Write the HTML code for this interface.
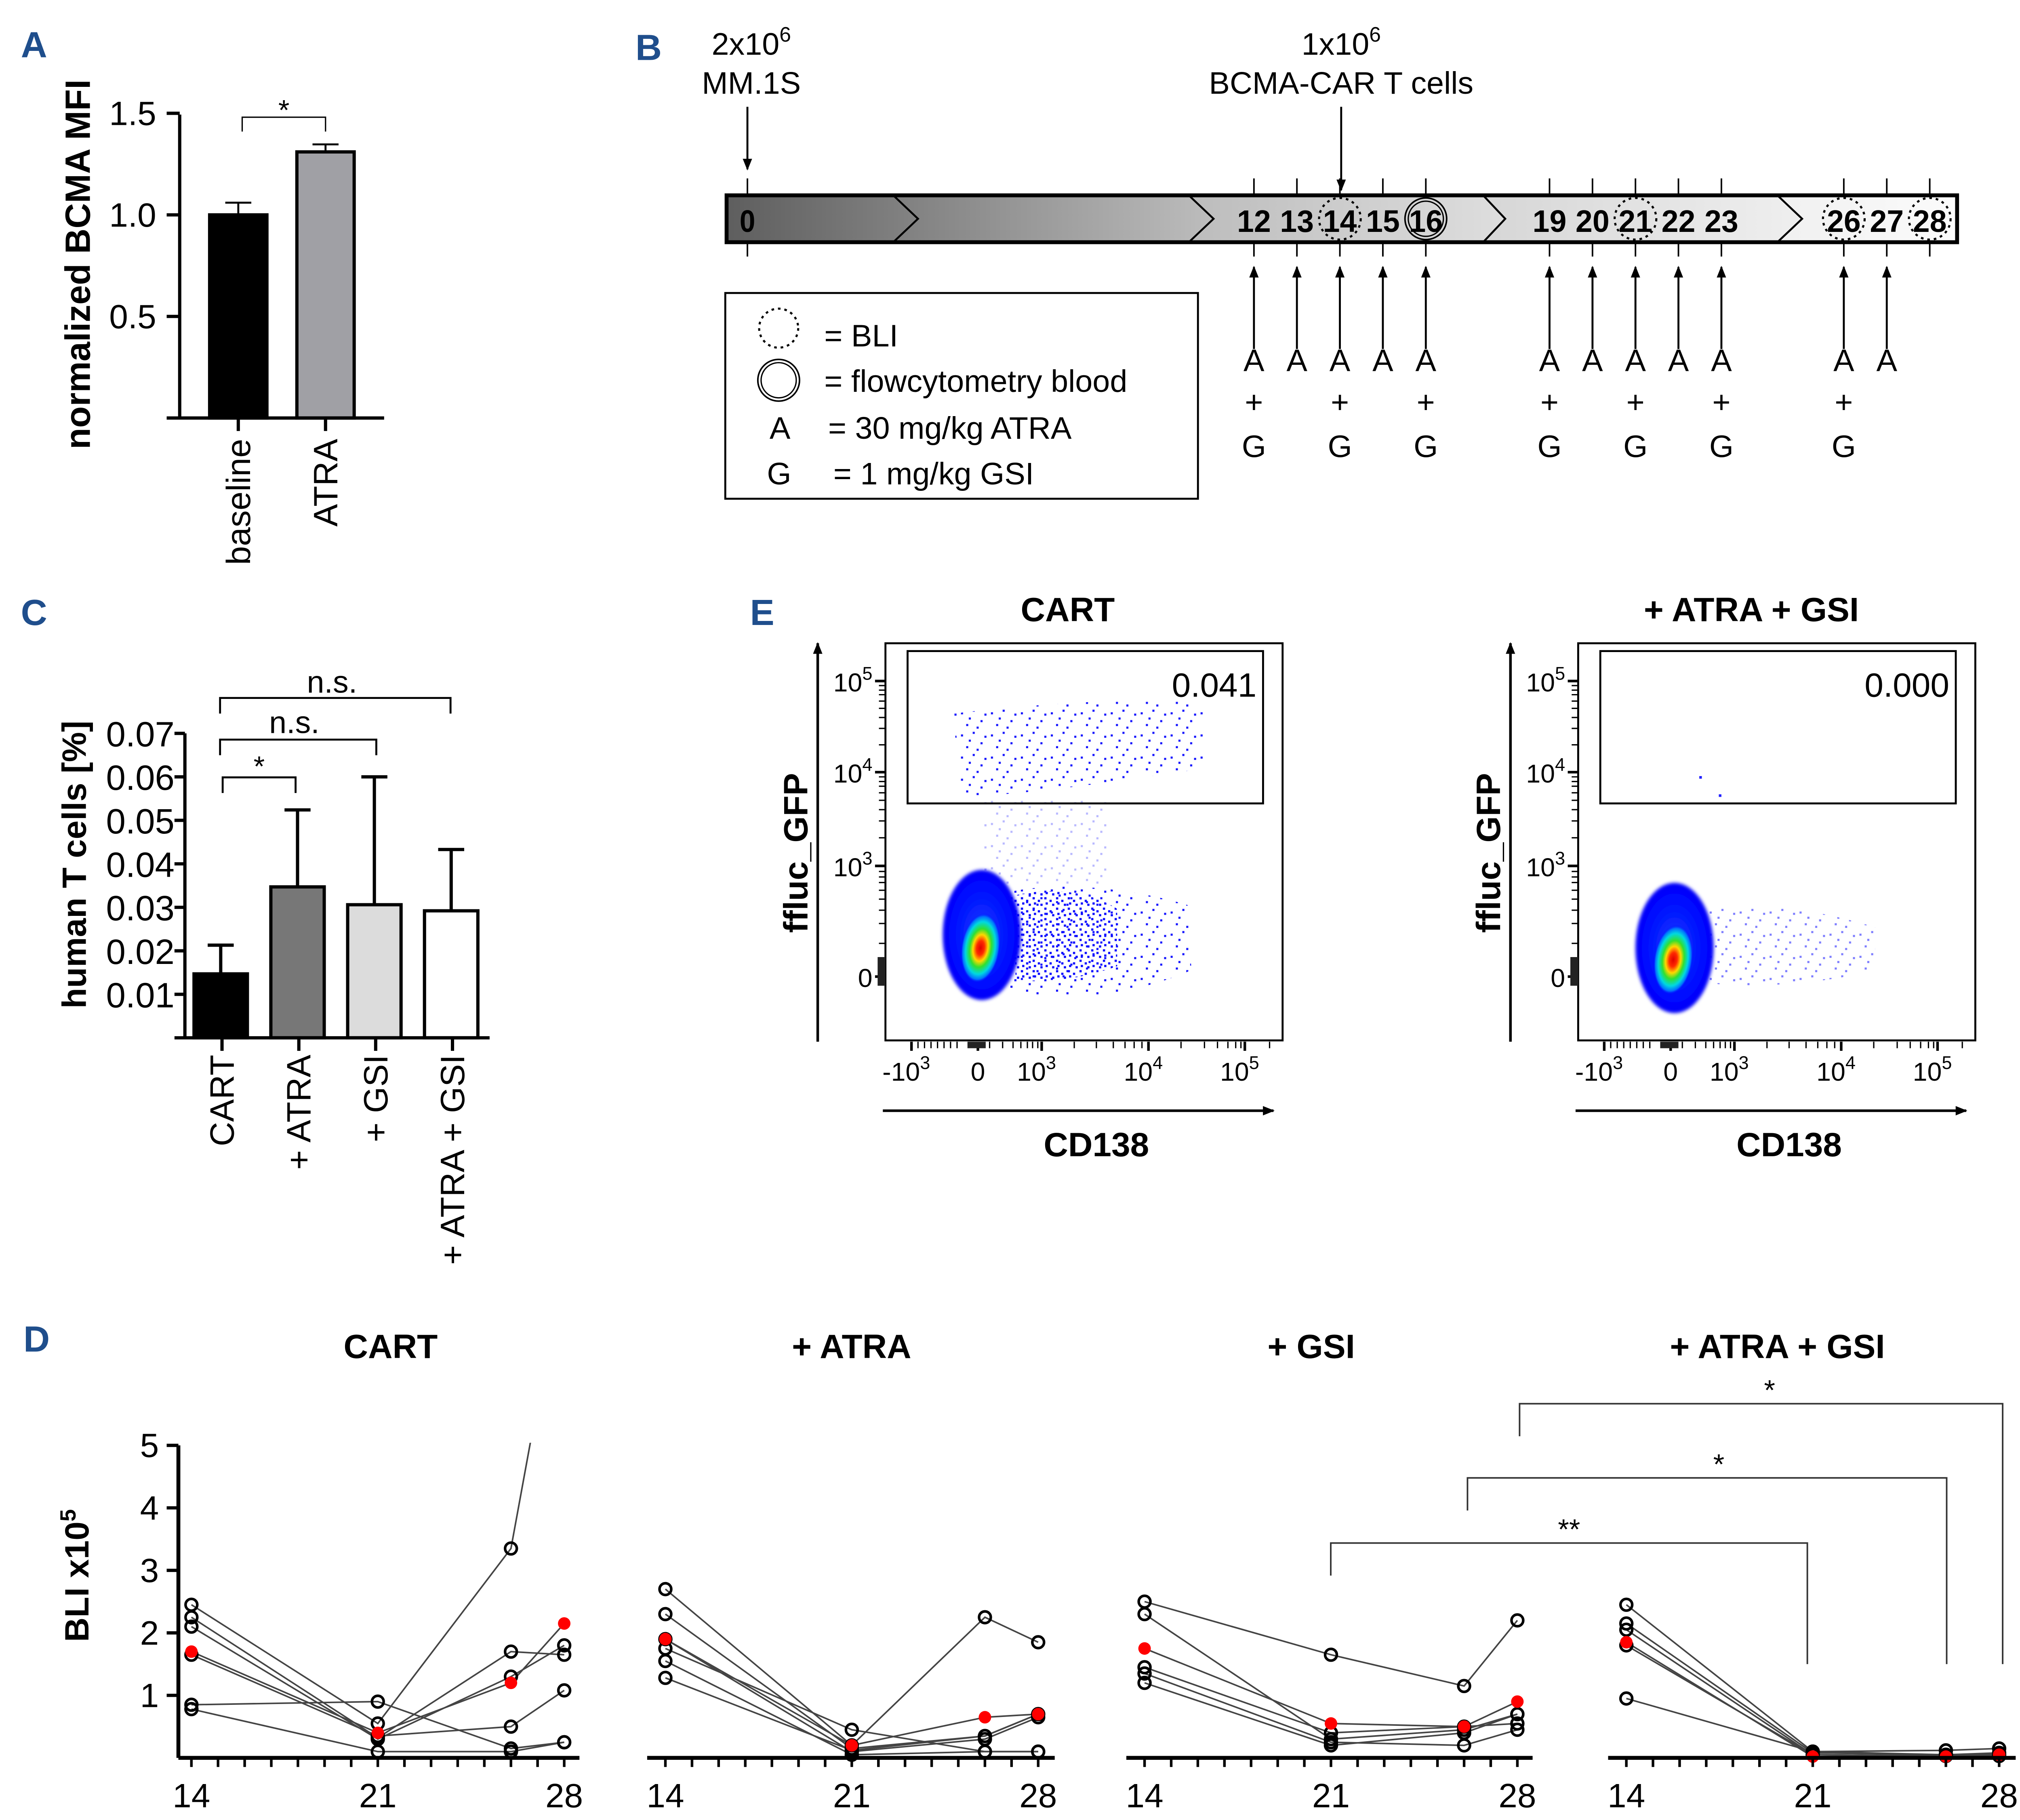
<!DOCTYPE html>
<html><head><meta charset="utf-8">
<style>
html,body{margin:0;padding:0;background:#fff;}
svg{display:block;font-family:"Liberation Sans",Arial,sans-serif;}
</style></head>
<body>
<svg id="fig" width="5028" height="4505" viewBox="0 0 1560 1397.7" xmlns="http://www.w3.org/2000/svg">
<defs>
  <linearGradient id="g1" x1="0" x2="1"><stop offset="0" stop-color="#5e5e5e"/><stop offset="1" stop-color="#bdbdbd"/></linearGradient>
  <linearGradient id="g3" x1="0" x2="1"><stop offset="0" stop-color="#bcbcbc"/><stop offset="1" stop-color="#dedede"/></linearGradient>
  <linearGradient id="g4" x1="0" x2="1"><stop offset="0" stop-color="#d6d6d6"/><stop offset="1" stop-color="#efefef"/></linearGradient>
  <linearGradient id="g5" x1="0" x2="1"><stop offset="0" stop-color="#f0f0f0"/><stop offset="1" stop-color="#fbfbfb"/></linearGradient>
  <radialGradient id="core" cx="0.5" cy="0.5" r="0.5">
    <stop offset="0" stop-color="#e00000"/><stop offset="0.2" stop-color="#ff2a00"/>
    <stop offset="0.38" stop-color="#ffd800"/><stop offset="0.55" stop-color="#30e030"/>
    <stop offset="0.75" stop-color="#00d8e0"/><stop offset="0.9" stop-color="#0070ff"/>
    <stop offset="1" stop-color="#0000ff" stop-opacity="0"/>
  </radialGradient>
  <radialGradient id="outer" cx="0.5" cy="0.5" r="0.5">
    <stop offset="0" stop-color="#1040ff"/><stop offset="0.8" stop-color="#0008ff"/><stop offset="1" stop-color="#0000f8"/>
  </radialGradient>
  <filter id="soft"><feGaussianBlur stdDeviation="1.3"/></filter>
  <pattern id="dots" width="23" height="17" patternUnits="userSpaceOnUse">
    <rect x="2" y="3" width="1.6" height="1.6" fill="#1515ff"/><rect x="11" y="1" width="1.6" height="1.6" fill="#1515ff"/>
    <rect x="17" y="9" width="1.6" height="1.6" fill="#1515ff"/><rect x="6" y="12" width="1.6" height="1.6" fill="#1515ff"/>
    <rect x="14" y="14" width="1.6" height="1.6" fill="#1515ff"/><rect x="20" y="4" width="1.6" height="1.6" fill="#1515ff"/>
    <rect x="8" y="7" width="1.6" height="1.6" fill="#1515ff"/>
  </pattern>
  <pattern id="dense" width="9" height="8" patternUnits="userSpaceOnUse">
    <rect x="1" y="1" width="1.7" height="1.7" fill="#0a0aff"/><rect x="5" y="3" width="1.7" height="1.7" fill="#0a0aff"/>
    <rect x="2" y="5" width="1.7" height="1.7" fill="#0a0aff"/><rect x="7" y="6" width="1.7" height="1.7" fill="#0a0aff"/>
  </pattern>
  <marker id="ah" viewBox="0 0 10 10" refX="9" refY="5" markerWidth="9" markerHeight="9" orient="auto-start-reverse" markerUnits="userSpaceOnUse">
    <path d="M0,1 L10,5 L0,9 z" fill="#000"/>
  </marker>
</defs>

<g font-weight="bold" fill="#1f4e8c" font-size="28">
  <text x="16" y="44">A</text>
  <text x="488" y="46">B</text>
  <text x="16" y="480">C</text>
  <text x="576" y="480">E</text>
  <text x="18" y="1038">D</text>
</g>

<g id="panelA"></g>
<g id="panelB"></g>
<g id="panelC"></g>
<g id="panelE"></g>
<g id="panelD"></g>
</svg>

<script>
// ---------- DATA ----------
const aCategories = ["baseline", "ATRA"];
const aValues = [1.0, 1.31];
const aErrors = [1.06, 1.347];
const aTicks = ["0.5", "1.0", "1.5"];

const cCategories = ["CART", "+ ATRA", "+ GSI", "+ ATRA + GSI"];
const cValues = [0.0147, 0.0347, 0.0306, 0.0292];
const cErrors = [0.0213, 0.0524, 0.060, 0.0433];
const cTicks = ["0.01","0.02","0.03","0.04","0.05","0.06","0.07"];

const bDays = [0,12,13,14,15,16,19,20,21,22,23,26,27,28];
const bAtraDays = [12,13,14,15,16,19,20,21,22,23,26,27];
const bGsiDays = [12,14,16,19,21,23,26];
const bBliDays = [14,21,26,28];
const bFlowDays = [16];

const dDays = [14, 21, 26, 28];
const dXTicks = ["14", "21", "28"];
const dYTicks = ["1","2","3","4","5"];
const dTitles = ["CART", "+ ATRA", "+ GSI", "+ ATRA + GSI"];
const dCart = [[2.45,0.55,3.35,8],[2.25,0.32,1.7,1.65],[2.1,0.3,1.3,1.8],[1.65,0.35,0.5,1.08],[0.85,0.9,0.15,0.25],[0.78,0.1,0.1,0.25]];
const dCartMean = [1.7,0.4,1.2,2.15];
const dAtra = [[2.7,0.2,2.25,1.85],[2.3,0.15,0.35,0.7],[1.9,0.1,0.3,0.65],[1.75,0.45,0.1,0.1],[1.55,0.05,0.1,0.1],[1.28,0.12,0.35,0.7]];
const dAtraMean = [1.9,0.2,0.65,0.7];
const dGsi = [[2.5,1.65,1.15,2.2],[2.3,0.3,0.45,0.7],[1.45,0.4,0.5,0.55],[1.35,0.25,0.2,0.45],[1.2,0.2,0.4,0.7]];
const dGsiMean = [1.75,0.55,0.5,0.9];
const dAg = [[2.45,0.1,0.12,0.15],[2.15,0.08,0.05,0.05],[2.05,0.05,0.03,0.05],[1.8,0.05,0.03,0.03],[0.95,0.1,0.05,0.08]];
const dAgMean = [1.85,0.02,0.02,0.05];

// ---------- helpers ----------
const NS = "http://www.w3.org/2000/svg";
function mk(parent, tag, attrs, text){
  const e = document.createElementNS(NS, tag);
  for (const k in attrs) e.setAttribute(k, attrs[k]);
  if (text !== undefined) e.textContent = text;
  parent.appendChild(e);
  return e;
}
const FONT = 26;

// ---------- PANEL A ----------
(function(){
  const g = document.getElementById('panelA');
  const x0 = 138, y0 = 321, yTop = 88;
  const yA = v => y0 - v * (y0 - 165);
  const barX = [161, 228], barW = 44;
  const fills = ["#000", "#a0a0a5"];
  aValues.forEach((v,i)=>{
    const eb = mk(g,'line',{x1:barX[i]+barW/2,x2:barX[i]+barW/2,y1:yA(v),y2:yA(aErrors[i]),stroke:'#000','stroke-width':1.5});
    
    
    const cap = mk(g,'line',{x1:barX[i]+barW/2-10,x2:barX[i]+barW/2+10,y1:yA(aErrors[i]),y2:yA(aErrors[i]),stroke:'#000','stroke-width':1.5});
    
    
    const r = mk(g,'rect',{x:barX[i],y:yA(v),width:barW,height:y0-yA(v),fill:fills[i],stroke:'#000','stroke-width':2.5});
    
    
    const t = mk(g,'text',{x:0,y:0,'font-size':FONT,'text-anchor':'end',transform:`translate(${barX[i]+barW/2+9},${y0+16}) rotate(-90)`}, aCategories[i]);
    
    
    mk(g,'line',{x1:barX[i]+barW/2,x2:barX[i]+barW/2,y1:y0,y2:y0+10,stroke:'#000','stroke-width':2.5});
  });
  const ax = mk(g,'path',{d:`M${x0},${yTop} V${y0} M${x0-10},${y0} H295`,stroke:'#000','stroke-width':2.5,fill:'none'});
  
  
  aTicks.forEach(t=>{
    const y = yA(parseFloat(t));
    mk(g,'line',{x1:x0-10,x2:x0,y1:y,y2:y,stroke:'#000','stroke-width':2.5});
    const tl = mk(g,'text',{x:120,y:y+9,'font-size':FONT,'text-anchor':'end'}, t);
    
    
  });
  const yl = mk(g,'text',{x:0,y:0,'font-size':27,'font-weight':'bold','text-anchor':'middle',transform:'translate(69,203) rotate(-90)'},'normalized BCMA MFI');
  
  
  const br = mk(g,'path',{d:'M186,101 V90 H250 V101',stroke:'#000','stroke-width':1,fill:'none'});
  
  
  mk(g,'text',{x:218,y:92,'font-size':22,'text-anchor':'middle'},'*');
})();

// ---------- PANEL B ----------
(function(){
  const g = document.getElementById('panelB');
  const dx = d => d === 0 ? 574 : (d<=16 ? 963 + (d-12)*33 : (d<=23 ? 1190 + (d-19)*33 : 1416 + (d-26)*33));
  const top = 150, bot = 186, mid = 168;
  mk(g,'rect',{x:558,y:top,width:945,height:bot-top,fill:'#fff'});
  mk(g,'path',{d:`M558,${top} H913 L932,${mid} L913,${bot} H558 Z`,fill:'url(#g1)'});
  mk(g,'path',{d:`M913,${top} H1139 L1156,${mid} L1139,${bot} H913 L932,${mid} Z`,fill:'url(#g3)'});
  mk(g,'path',{d:`M1139,${top} H1365 L1384,${mid} L1365,${bot} H1139 L1156,${mid} Z`,fill:'url(#g4)'});
  mk(g,'path',{d:`M1365,${top} H1503 V${bot} H1365 L1384,${mid} Z`,fill:'url(#g5)'});
  mk(g,'path',{d:`M686,${top} L705,${mid} L686,${bot} M913,${top} L932,${mid} L913,${bot} M1139,${top} L1156,${mid} L1139,${bot} M1365,${top} L1384,${mid} L1365,${bot}`,stroke:'#000','stroke-width':1.5,fill:'none'});
  const frame = mk(g,'rect',{x:558,y:top,width:945,height:bot-top,fill:'none',stroke:'#000','stroke-width':3});
  
  
  bDays.forEach(d=>{
    const x = dx(d);
    mk(g,'line',{x1:x,x2:x,y1:137,y2:top,stroke:'#000','stroke-width':1.2});
    mk(g,'line',{x1:x,x2:x,y1:bot,y2:197,stroke:'#000','stroke-width':1.2});
    const t = mk(g,'text',{x:x,y:178,'font-size':24,'font-weight':'bold','text-anchor':'middle',textLength: d>=10?26:12,lengthAdjust:'spacingAndGlyphs'}, String(d));
    
    
  });
  bBliDays.forEach(d=>{
    const c = mk(g,'circle',{cx:dx(d),cy:mid,r:16,fill:'none',stroke:'#000','stroke-width':1.6,'stroke-dasharray':'2 3'});
    
    
  });
  bFlowDays.forEach(d=>{
    const c = mk(g,'circle',{cx:dx(d),cy:mid,r:16,fill:'none',stroke:'#000','stroke-width':1.2});
    
    
    mk(g,'circle',{cx:dx(d),cy:mid,r:13.5,fill:'none',stroke:'#000','stroke-width':1});
  });
  bAtraDays.forEach(d=>{
    const x = dx(d);
    const a = mk(g,'line',{x1:x,x2:x,y1:268,y2:205,stroke:'#000','stroke-width':1.5,'marker-end':'url(#ah)'});
    
    
    mk(g,'text',{x:x,y:285,'font-size':24,'text-anchor':'middle'},'A');
  });
  bGsiDays.forEach(d=>{
    const x = dx(d);
    mk(g,'text',{x:x,y:317,'font-size':24,'text-anchor':'middle'},'+');
    mk(g,'text',{x:x,y:351,'font-size':24,'text-anchor':'middle'},'G');
  });
  const a1 = mk(g,'line',{x1:574,x2:574,y1:82,y2:130,stroke:'#000','stroke-width':1.5,'marker-end':'url(#ah)'});
  
  
  const a2 = mk(g,'line',{x1:1030,x2:1030,y1:82,y2:146,stroke:'#000','stroke-width':1.5,'marker-end':'url(#ah)'});
  
  
  const t1 = mk(g,'text',{x:577,y:42,'font-size':24,'text-anchor':'middle'}); t1.innerHTML = '2x10<tspan dy="-10" font-size="16">6</tspan>';
  
  
  mk(g,'text',{x:577,y:72,'font-size':24,'text-anchor':'middle'},'MM.1S');
  const t2 = mk(g,'text',{x:1030,y:42,'font-size':24,'text-anchor':'middle'}); t2.innerHTML = '1x10<tspan dy="-10" font-size="16">6</tspan>';
  
  
  mk(g,'text',{x:1030,y:72,'font-size':24,'text-anchor':'middle'},'BCMA-CAR T cells');
  const lg = mk(g,'g',{});
  
  
  mk(lg,'rect',{x:557,y:225,width:363,height:158,fill:'#fff',stroke:'#000','stroke-width':1.5});
  mk(lg,'circle',{cx:598,cy:252,r:15,fill:'none',stroke:'#000','stroke-width':1.6,'stroke-dasharray':'2 3'});
  mk(lg,'circle',{cx:598,cy:292,r:16,fill:'none',stroke:'#000','stroke-width':1.2});
  mk(lg,'circle',{cx:598,cy:292,r:13.5,fill:'none',stroke:'#000','stroke-width':1});
  mk(lg,'text',{x:633,y:266,'font-size':24},'= BLI');
  mk(lg,'text',{x:633,y:301,'font-size':24},'= flowcytometry blood');
  mk(lg,'text',{x:591,y:337,'font-size':24},'A');
  mk(lg,'text',{x:636,y:337,'font-size':24},'= 30 mg/kg ATRA');
  mk(lg,'text',{x:589,y:372,'font-size':24},'G');
  mk(lg,'text',{x:640,y:372,'font-size':24},'= 1 mg/kg GSI');
})();

// ---------- PANEL C ----------
(function(){
  const g = document.getElementById('panelC');
  const x0 = 142, y0 = 797;
  const yC = v => y0 - v * 3340;
  const barX = [149,208,267,326], barW = 41;
  const fills = ["#000","#777","#dcdcdc","#fff"];
  cValues.forEach((v,i)=>{
    const cx = barX[i]+barW/2;
    mk(g,'line',{x1:cx,x2:cx,y1:yC(v),y2:yC(cErrors[i]),stroke:'#000','stroke-width':2.5});
    mk(g,'line',{x1:cx-10,x2:cx+10,y1:yC(cErrors[i]),y2:yC(cErrors[i]),stroke:'#000','stroke-width':2.5});
    const r = mk(g,'rect',{x:barX[i],y:yC(v),width:barW,height:y0-yC(v),fill:fills[i],stroke:'#000','stroke-width':2.5});
    
    
    mk(g,'line',{x1:cx+1,x2:cx+1,y1:y0,y2:y0+10,stroke:'#000','stroke-width':2.5});
    const t = mk(g,'text',{x:0,y:0,'font-size':FONT,'text-anchor':'end',transform:`translate(${cx+10},${y0+13}) rotate(-90)`}, cCategories[i]);
    
    
  });
  const ax = mk(g,'path',{d:`M${x0},${yC(0.07)} V${y0} M${x0-8},${y0} H376`,stroke:'#000','stroke-width':2.5,fill:'none'});
  
  
  cTicks.forEach(t=>{
    const y = yC(parseFloat(t));
    mk(g,'line',{x1:x0-8,x2:x0,y1:y,y2:y,stroke:'#000','stroke-width':2.5});
    const tl = mk(g,'text',{x:134,y:y+10,'font-size':27,'text-anchor':'end'}, t);
    
    
  });
  const yl = mk(g,'text',{x:0,y:0,'font-size':26,'font-weight':'bold','text-anchor':'middle',transform:'translate(66,664) rotate(-90)'},'human T cells [%]');
  
  
  const brs = [[171,227,597,'*',199,596],[169,289,568,'n.s.',226,563],[169,346,536,'n.s.',255,532]];
  brs.forEach(b=>{
    const p = mk(g,'path',{d:`M${b[0]},${b[2]+12} V${b[2]} H${b[1]} V${b[2]+12}`,stroke:'#000','stroke-width':1.5,fill:'none'});
    
    
    mk(g,'text',{x:b[4],y:b[5],'font-size':b[3]==='*'?22:24,'text-anchor':'middle'},b[3]);
  });
})();

// ---------- PANEL E ----------
(function(){
  const g = document.getElementById('panelE');
  const plots = [
    {ox:0, title:'CART', value:'0.041', blob:[754,718], core:[753,728], gated:true},
    {ox:532, title:'+ ATRA + GSI', value:'0.000', blob:[1286,728], core:[1285,737], gated:false}
  ];
  plots.forEach((p,i)=>{
    const pg = mk(g,'g',{});
    
    
    const o = p.ox;
    mk(pg,'text',{x:820+o-(i?7:0),y:477,'font-size':26,'font-weight':'bold','text-anchor':'middle'},p.title);
    if (p.gated) {
      mk(pg,'path',{d:`M775,685 C820,675 880,685 912,695 L915,745 C870,765 820,768 775,765 Z`,fill:'url(#dots)'});
      mk(pg,'path',{d:`M778,688 C810,680 840,686 858,698 L858,742 C830,752 800,756 780,752 Z`,fill:'url(#dense)'});
      mk(pg,'path',{d:`M732,548 C800,540 880,535 925,540 L925,590 C860,600 790,610 738,612 Z`,fill:'url(#dots)'});
      mk(pg,'path',{d:`M755,615 L850,615 L850,680 L755,680 Z`,fill:'url(#dots)',opacity:0.3});
    } else {
      mk(pg,'path',{d:`M1310,700 C1350,690 1400,700 1440,712 L1440,745 C1390,758 1340,758 1310,755 Z`,fill:'url(#dots)',opacity:0.55});
      mk(pg,'rect',{x:1305,y:596,width:2,height:2,fill:'#2020ff'});
      mk(pg,'rect',{x:1320,y:610,width:2,height:2,fill:'#2020ff'});
    }
    const b = mk(pg,'ellipse',{cx:p.blob[0],cy:p.blob[1],rx:30,ry:50,fill:'url(#outer)',filter:'url(#soft)'});
    
    
    const c = mk(pg,'ellipse',{cx:p.core[0],cy:p.core[1],rx:15,ry:27,fill:'url(#core)',transform:`rotate(8 ${p.core[0]} ${p.core[1]})`});
    
    
    mk(pg,'rect',{x:680+o,y:494,width:305,height:305,fill:'none',stroke:'#000','stroke-width':1.5});
    const gate = mk(pg,'rect',{x:697+o,y:500,width:273,height:117,fill:'none',stroke:'#000','stroke-width':1.5});
    
    
    const v = mk(pg,'text',{x:965+o,y:535,'font-size':26,'text-anchor':'end'},p.value);
    
    
    mk(pg,'line',{x1:628+o,x2:628+o,y1:800,y2:494,stroke:'#000','stroke-width':2,'marker-end':'url(#ah)'});
    mk(pg,'line',{x1:678+o,x2:978+o,y1:853,y2:853,stroke:'#000','stroke-width':2,'marker-end':'url(#ah)'});
    const yl = mk(pg,'text',{x:0,y:0,'font-size':26,'font-weight':'bold','text-anchor':'middle',transform:`translate(${620+o},655) rotate(-90)`},'ffluc_GFP');
    
    
    const xl = mk(pg,'text',{x:842+o,y:888,'font-size':26,'font-weight':'bold','text-anchor':'middle'},'CD138');
    
    
    [[523,'10','5'],[593,'10','4'],[665,'10','3'],[750,'0','']].forEach(t=>{
      mk(pg,'line',{x1:672+o,x2:680+o,y1:t[0],y2:t[0],stroke:'#000','stroke-width':2});
      const tt = mk(pg,'text',{x:670+o,y:t[0]+8,'font-size':20,'text-anchor':'end'});
      tt.innerHTML = t[2] ? `${t[1]}<tspan dy="-9" font-size="14">${t[2]}</tspan>` : t[1];
      
      
    });
    for (let k=0;k<3;k++){ [0.3,0.48,0.6,0.7,0.78,0.85,0.9,0.95].forEach(f=>{
      const y = [593,665,750][k] - f*([70,72,85][k]);
      mk(pg,'line',{x1:675+o,x2:680+o,y1:y,y2:y,stroke:'#000','stroke-width':1});
    });}
    mk(pg,'rect',{x:674+o,y:735,width:6,height:22,fill:'#222'});
    [[700,'-10','3'],[751,'0',''],[800,'10','3'],[882,'10','4'],[956,'10','5']].forEach(t=>{
      mk(pg,'line',{x1:t[0]+o,x2:t[0]+o,y1:800,y2:807,stroke:'#000','stroke-width':2});
      const tt = mk(pg,'text',{x:t[0]+o-(t[2]?4:0),y:830,'font-size':20,'text-anchor':'middle'});
      tt.innerHTML = t[2] ? `${t[1]}<tspan dy="-9" font-size="14">${t[2]}</tspan>` : t[1];
      
      
    });
    [705,710,715,720,725,730,735,760,770,778,784,789,793,797,825,842,855,864,871,877,907,925,935,943,949,953,975].forEach(x=>{
      mk(pg,'line',{x1:x+o,x2:x+o,y1:800,y2:805,stroke:'#000','stroke-width':1});
    });
    mk(pg,'rect',{x:743+o,y:800,width:14,height:5,fill:'#222'});
  });
})();

// ---------- PANEL D ----------
(function(){
  const g = document.getElementById('panelD');
  const y0 = 1350, perUnit = 48;
  const yD = v => y0 - v * perUnit;
  const origins = [147, 511, 879, 1249];
  const axisSpan = [[137,445],[497,810],[865,1177],[1235,1548]];
  const perDay = 20.45;
  const datasets = [dCart, dAtra, dGsi, dAg];
  const means = [dCartMean, dAtraMean, dGsiMean, dAgMean];
  const titleX = [300, 654, 1007, 1365];
  mk(g,'defs',{}).innerHTML = '<clipPath id="dclip"><rect x="100" y="1108" width="1460" height="260"/></clipPath>';
  datasets.forEach((ds,pi)=>{
    const pg = mk(g,'g',{});
    
    
    const xD = d => origins[pi] + (d - 14) * perDay;
    const tt = mk(pg,'text',{x:titleX[pi],y:1043,'font-size':26,'font-weight':'bold','text-anchor':'middle'},dTitles[pi]);
    
    
    const lines = mk(pg,'g',{'clip-path':'url(#dclip)'});
    ds.forEach(s=>{
      const pts = s.map((v,k)=>`${xD(dDays[k])},${yD(v)}`).join(' ');
      const pl = mk(lines,'polyline',{points:pts,fill:'none',stroke:'#444','stroke-width':1.2});
      
      
    });
    const m = means[pi];
    mk(lines,'polyline',{points:m.map((v,k)=>`${xD(dDays[k])},${yD(v)}`).join(' '),fill:'none',stroke:'#444','stroke-width':1.2});
    ds.forEach(s=>{
      s.forEach((v,k)=>{
        if (v > 5.1) return;
        const c = mk(lines,'circle',{cx:xD(dDays[k]),cy:yD(v),r:4.5,fill:'none',stroke:'#000','stroke-width':2});
        
        
      });
    });
    m.forEach((v,k)=>{
      const c = mk(pg,'circle',{cx:xD(dDays[k]),cy:yD(v),r:4.8,fill:'#ff0000'});
      
      
    });
    const ax = mk(pg,'line',{x1:axisSpan[pi][0],x2:axisSpan[pi][1],y1:y0,y2:y0,stroke:'#000','stroke-width':3});
    
    
    for (let d=14; d<=28; d++){
      mk(pg,'line',{x1:xD(d),x2:xD(d),y1:y0,y2:y0+7,stroke:'#000','stroke-width':2});
    }
    dXTicks.forEach(t=>{
      const tl = mk(pg,'text',{x:xD(parseFloat(t)),y:1388,'font-size':26,'text-anchor':'middle'},t);
      
      
    });
  });
  const ya = mk(g,'line',{x1:137,x2:137,y1:yD(5),y2:y0,stroke:'#000','stroke-width':3});
  
  
  dYTicks.forEach(t=>{
    const y = yD(parseFloat(t));
    mk(g,'line',{x1:128,x2:137,y1:y,y2:y,stroke:'#000','stroke-width':2.5});
    const tl = mk(g,'text',{x:122,y:y+9,'font-size':26,'text-anchor':'end'},t);
    
    
  });
  const yl = mk(g,'text',{x:0,y:0,'font-size':26,'font-weight':'bold','text-anchor':'middle',transform:'translate(68,1210) rotate(-90)'});
  yl.innerHTML = 'BLI x10<tspan dy="-10" font-size="17">5</tspan>';
  
  
  [[1022,1185,1388,'**',1205],[1127,1135,1495,'*',1320],[1167,1078,1538,'*',1359]].forEach(b=>{
    const p = mk(g,'path',{d:`M${b[0]},${b[1]+25} V${b[1]} H${b[2]} V1278`,stroke:'#333','stroke-width':1.2,fill:'none'});
    
    
    mk(g,'text',{x:b[4],y:b[1]-3,'font-size':22,'text-anchor':'middle'},b[3]);
  });
})();
</script>
</body></html>
